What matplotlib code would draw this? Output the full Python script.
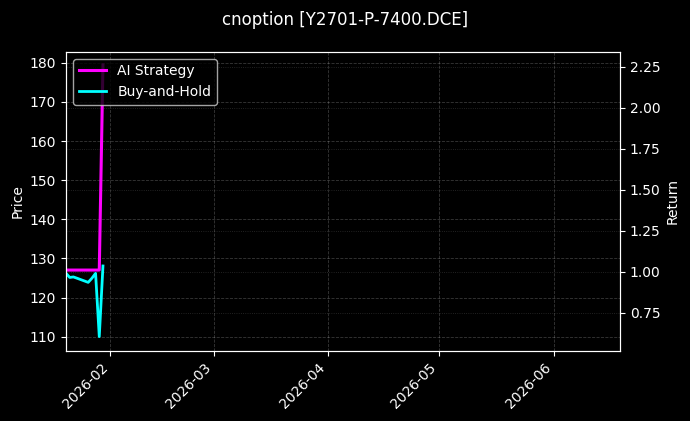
import numpy as np
import matplotlib
matplotlib.use('Agg')
import matplotlib.pyplot as plt
import matplotlib.dates as mdates

plt.style.use('dark_background')

# trading days of the series
dates = np.array(['2026-01-20', '2026-01-21', '2026-01-22', '2026-01-23', '2026-01-26',
                  '2026-01-27', '2026-01-28', '2026-01-29', '2026-01-30'], dtype='datetime64[D]')
ai_strategy = [1.01, 1.01, 1.01, 1.01, 1.01, 1.01, 1.01, 1.01, 2.262]
buy_hold = [0.99, 0.965, 0.968, 0.96, 0.935, 0.96, 0.99, 0.604, 1.035]

x_range = np.array(['2026-01-20', '2026-06-19'], dtype='datetime64[D]')
price_range = (106.45, 182.8)
return_range = (0.518, 2.342)

fig = plt.figure(figsize=(6.9, 4.21), dpi=100)
ax1 = fig.add_axes([0.0957, 0.167, 0.8029, 0.710])
ax2 = ax1.twinx()

l1, = ax2.plot(dates, ai_strategy, color='#ff00ff', linewidth=2.2, label='AI Strategy')
l2, = ax2.plot(dates, buy_hold, color='#00ffff', linewidth=2.0, label='Buy-and-Hold')

ax1.set_xlim(x_range[0], x_range[1])
ax1.set_ylim(*price_range)
ax2.set_ylim(*return_range)
ax1.set_yticks(np.arange(110, 181, 10))

ax1.set_ylabel('Price')
ax2.set_ylabel('Return')
ax1.grid(True, alpha=0.22, linestyle='--', linewidth=0.6)
ax2.grid(True, alpha=0.18, linestyle=':', linewidth=0.6)

ax1.xaxis.set_major_locator(mdates.MonthLocator())
ax1.xaxis.set_major_formatter(mdates.DateFormatter('%Y-%m'))
for lbl in ax1.get_xticklabels():
    lbl.set_rotation(45)
    lbl.set_ha('right')

ax2.legend(handles=[l1, l2], loc='upper left')
fig.suptitle('cnoption [Y2701-P-7400.DCE]', fontsize=12, y=0.975)

plt.savefig('out.png', dpi=100)
plt.close(fig)
